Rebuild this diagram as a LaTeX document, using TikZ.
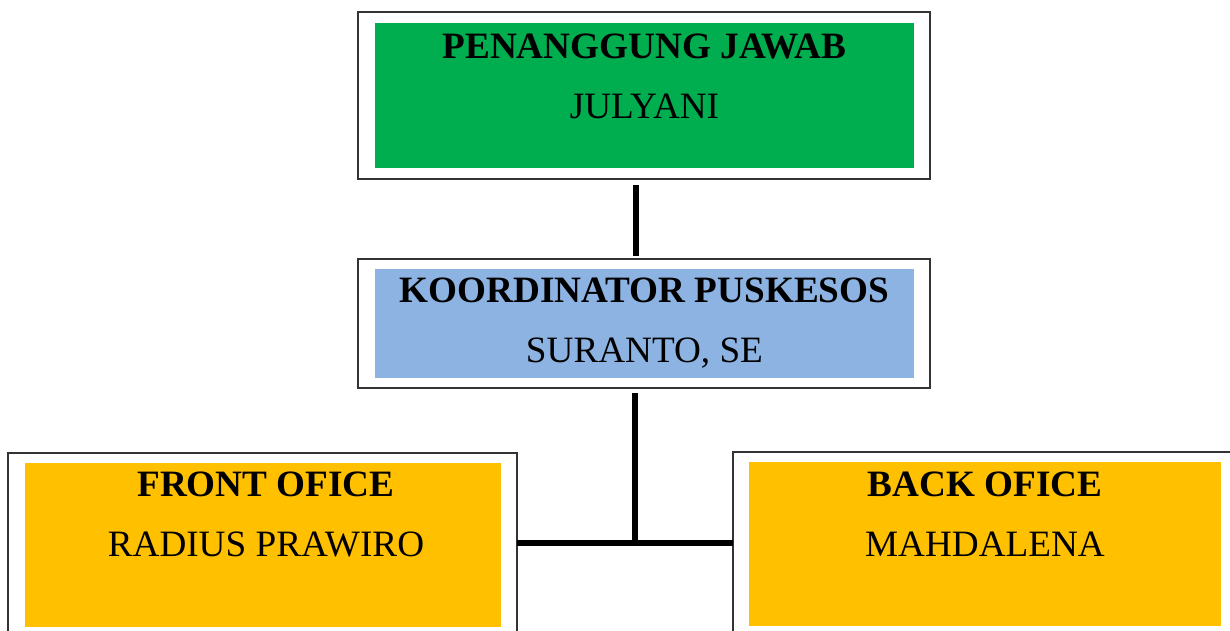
\documentclass[tikz,border=0pt]{standalone}
\usepackage{fontspec}
\setmainfont{Liberation Serif}
\usetikzlibrary{positioning}

\definecolor{pjgreen}{HTML}{00AD4F}
\definecolor{koorblue}{HTML}{8DB3E2}
\definecolor{ofgold}{HTML}{FFC000}

\begin{document}
\begin{tikzpicture}[
    x=0.5pt, y=-0.5pt,
    frame/.style={draw=black!80, line width=0.7pt, fill=white, inner sep=0pt, outer sep=0pt},
    pane/.style={inner sep=0pt, outer sep=0pt},
    lbl/.style={align=center, inner sep=0pt, font=\fontsize{18.6pt}{30pt}\selectfont},
    link/.style={line width=3.3pt, black}
    ]
    \useasboundingbox (0,0) rectangle (1230,631);

    \node[frame, minimum width=286pt, minimum height=83.5pt] (pj) at (644,95.5) {};
    \node[pane, fill=pjgreen, minimum width=269.5pt, minimum height=72.5pt] (pjfill) at (644.5,95.5) {};
    \node[lbl] (pjtext) at (644.5,76) {\textbf{PENANGGUNG JAWAB}\\JULYANI};

    \node[frame, minimum width=286pt, minimum height=64.5pt] (koor) at (644,323.5) {};
    \node[pane, fill=koorblue, minimum width=269.5pt, minimum height=54.5pt] (koorfill) at (644.5,323.5) {};
    \node[lbl] (koortext) at (644.5,323.5) {\textbf{KOORDINATOR PUSKESOS}\\SURANTO, SE};

    \node[frame, minimum width=254.5pt, minimum height=90pt] (fo) at (262.5,543) {};
    \node[pane, fill=ofgold, minimum width=238pt, minimum height=82pt] (fofill) at (263,545) {};
    \node[lbl] (fotext) at (266,514.5) {\textbf{FRONT OFICE}\\RADIUS PRAWIRO};

    \node[frame, minimum width=252pt, minimum height=91pt] (bo) at (985,543) {};
    \node[pane, fill=ofgold, minimum width=236pt, minimum height=82pt] (bofill) at (985,544) {};
    \node[lbl] (botext) at (985,514) {\textbf{BACK OFICE}\\MAHDALENA};

    \coordinate (junc) at ([xshift=-4.5pt]koor.south |- fo.east);

    \draw[link] ([xshift=-4pt,yshift=-3pt]pj.south) -- ([xshift=-4pt,yshift=1.5pt]koor.north);
    \draw[link] ([xshift=-4.5pt,yshift=-2.5pt]koor.south) -- (junc);
    \draw[link] (fo.east) -- (bo.west);
\end{tikzpicture}
\end{document}
